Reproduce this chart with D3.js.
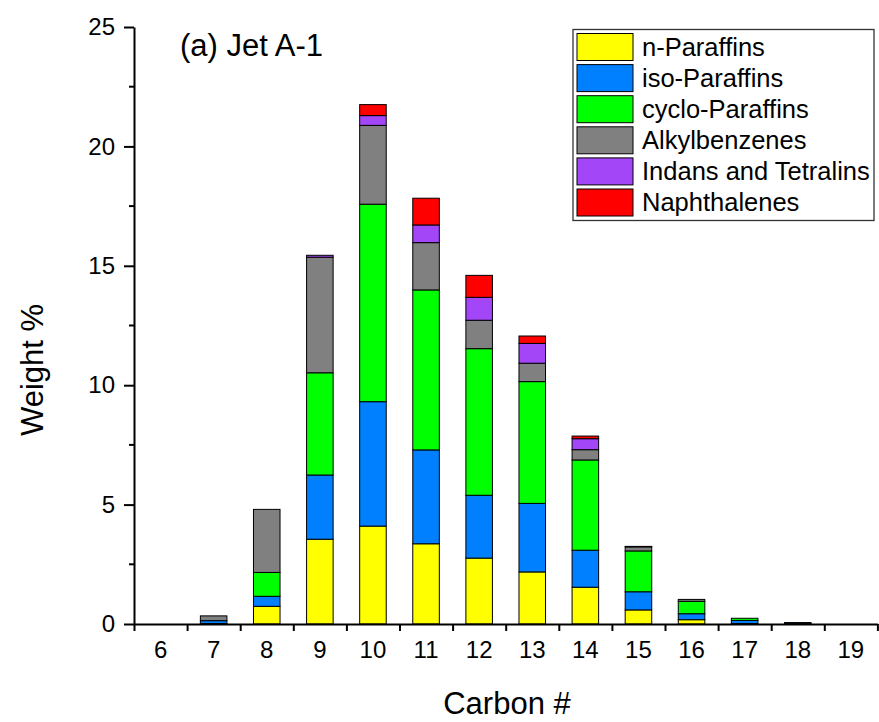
<!DOCTYPE html>
<html>
<head>
<meta charset="utf-8">
<script src="https://cdn.jsdelivr.net/npm/d3@7"></script>
<style>
  body { margin: 0; background: #fff; }
  text { font-family: "Liberation Sans", Arial, sans-serif; fill: #000; }
</style>
</head>
<body>
<script>
// carbon numbers on the x axis
let carbons = ["6","7","8","9","10","11","12","13","14","15","16","17","18","19"];
let groups = ["n-Paraffins","iso-Paraffins","cyclo-Paraffins","Alkylbenzenes","Indans and Tetralins","Naphthalenes"];
let colors = ["#ffff00","#0080ff","#00ff00","#808080","#a346f8","#ff0000"];

// weight % per carbon number
let nParaffins   = [0, 0.02, 0.74, 3.55, 4.10, 3.36, 2.76, 2.18, 1.54, 0.59, 0.18, 0.02, 0.03, 0];
let isoParaffins = [0, 0.12, 0.42, 2.69, 5.21, 3.93, 2.63, 2.87, 1.55, 0.76, 0.25, 0.13, 0.03, 0];
let cycloParaffins = [0, 0, 1.00, 4.28, 8.27, 6.70, 6.14, 5.10, 3.78, 1.71, 0.52, 0.09, 0, 0];
let alkylbenzenes = [0, 0.20, 2.64, 4.84, 3.30, 1.98, 1.19, 0.77, 0.43, 0.17, 0.08, 0, 0, 0];
let indans       = [0, 0, 0, 0.08, 0.41, 0.74, 0.96, 0.83, 0.46, 0.02, 0, 0, 0, 0];
let naphthalenes = [0, 0, 0, 0, 0.46, 1.12, 0.92, 0.31, 0.11, 0, 0, 0, 0, 0];

let yTicks = [0, 5, 10, 15, 20, 25];
let yMinor = [2.5, 7.5, 12.5, 17.5, 22.5];

let series = [nParaffins, isoParaffins, cycloParaffins, alkylbenzenes, indans, naphthalenes];
let _data = carbons.map((c, i) => {
  let row = {carbon: c};
  groups.forEach((g, j) => row[g] = series[j][i]);
  return row;
});

let W = 879, H = 722;
let margin = {left: 134, right: 877.4, bottom: 624, top: 27};

let svg = d3.select("body").append("svg").attr("width", W).attr("height", H);

let x = d3.scaleBand().domain(carbons).range([margin.left, margin.right]).paddingInner(0.5).paddingOuter(0.25);
let xl = d3.scaleLinear().domain([5.5, 19.5]).range([margin.left, margin.right]);
let y = d3.scaleLinear().domain([0, 25]).range([margin.bottom, margin.top]);

let stack = d3.stack().keys(groups);

svg.append("g").selectAll("g")
  .data(stack(_data))
  .enter().append("g")
    .attr("fill", (d, i) => colors[i])
  .selectAll("rect")
  .data(d => d.filter(p => p[1] - p[0] > 0))
  .enter().append("rect")
    .attr("x", d => x(d.data.carbon))
    .attr("width", x.bandwidth())
    .attr("y", d => y(d[1]))
    .attr("height", d => y(d[0]) - y(d[1]))
    .attr("stroke", "#000")
    .attr("stroke-width", 1);

// x axis: ticks between categories, labels at centres
let bounds = d3.range(5.5, 20, 1);
let xAxis = svg.append("g").attr("transform", "translate(0," + margin.bottom + ")")
  .call(d3.axisBottom(xl).tickValues(bounds).tickFormat("").tickSize(7).tickSizeOuter(0));
xAxis.select(".domain").attr("stroke-width", 2);
xAxis.selectAll(".tick line").attr("stroke-width", 2);

svg.append("g").attr("transform", "translate(0," + margin.bottom + ")")
  .call(d3.axisBottom(x).tickSize(0).tickPadding(17))
  .call(g => g.select(".domain").remove())
  .selectAll("text").attr("font-size", 24).attr("font-family", "Liberation Sans, Arial, sans-serif");

// y axis
let yAxis = svg.append("g").attr("transform", "translate(" + margin.left + ",0)")
  .call(d3.axisLeft(y).tickValues(yTicks).tickSize(10).tickSizeOuter(0).tickPadding(9));
yAxis.select(".domain").attr("stroke-width", 2);
yAxis.selectAll(".tick line").attr("stroke-width", 2);
yAxis.selectAll("text").attr("font-size", 24).attr("font-family", "Liberation Sans, Arial, sans-serif");

svg.append("g").selectAll("line")
  .data(yMinor)
  .enter().append("line")
    .attr("x1", margin.left - 5).attr("x2", margin.left)
    .attr("y1", d => y(d)).attr("y2", d => y(d))
    .attr("stroke", "#000").attr("stroke-width", 2);

// titles
svg.append("text").attr("x", 180).attr("y", 56).attr("font-size", 31).text("(a) Jet A-1");
svg.append("text").attr("x", 507).attr("y", 714).attr("text-anchor", "middle")
  .attr("font-size", 31).text("Carbon #");
svg.append("text").attr("transform", "translate(43,370) rotate(-90)")
  .attr("text-anchor", "middle").attr("font-size", 31).text("Weight %");

// legend
let lg = svg.append("g");
lg.append("rect").attr("x", 573).attr("y", 29.5).attr("width", 301).attr("height", 191)
  .attr("fill", "#fff").attr("stroke", "#333").attr("stroke-width", 1.3);
let items = lg.selectAll("g.item").data(groups).enter().append("g")
  .attr("transform", (d, i) => "translate(577," + (33.5 + i * 31.1) + ")");
items.append("rect").attr("width", 56).attr("height", 27)
  .attr("fill", (d, i) => colors[i]).attr("stroke", "#000").attr("stroke-width", 1);
items.append("text").attr("x", 65).attr("y", 22).attr("font-size", 25.5).text(d => d);
</script>
</body>
</html>
